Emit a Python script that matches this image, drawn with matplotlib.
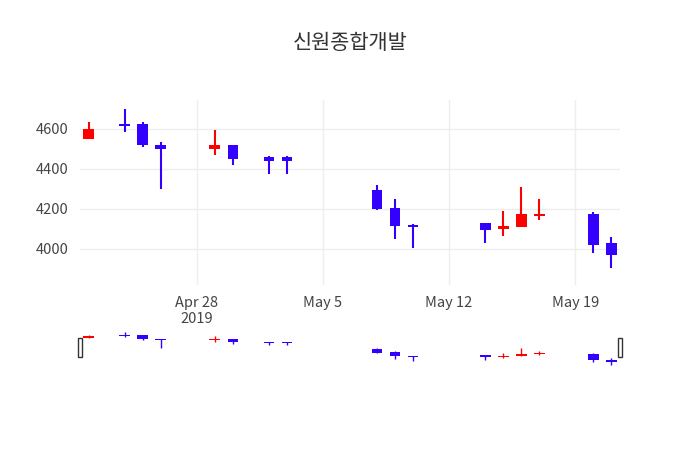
import matplotlib
matplotlib.use("Agg")
import matplotlib.pyplot as plt
import matplotlib.dates as mdates
import datetime as dt

plt.rcParams['font.family'] = ['Noto Sans CJK KR', 'DejaVu Sans']

dates = ["2019-04-22","2019-04-24","2019-04-25","2019-04-26","2019-04-29","2019-04-30",
         "2019-05-02","2019-05-03","2019-05-08","2019-05-09","2019-05-10","2019-05-14",
         "2019-05-15","2019-05-16","2019-05-17","2019-05-20","2019-05-21"]
opens  = [4550,4625,4625,4520,4500,4520,4460,4460,4295,4205,4120,4130,4100,4110,4165,4175,4030]
closes = [4600,4615,4520,4500,4520,4450,4440,4440,4200,4115,4110,4095,4115,4175,4175,4020,3970]
highs  = [4635,4700,4635,4535,4595,4520,4465,4465,4320,4250,4125,4130,4190,4310,4250,4185,4060]
lows   = [4550,4585,4510,4300,4470,4420,4375,4375,4195,4050,4005,4030,4065,4110,4145,3980,3905]

x = mdates.date2num([dt.datetime.strptime(d, "%Y-%m-%d") for d in dates])
UP, DOWN = "#ff0000", "#3300ff"

fig = plt.figure(figsize=(7, 4.5), dpi=100)
fig.text(0.5, 0.905, "신원종합개발", ha="center", va="center", fontsize=15, color="#333")
ax = fig.add_axes([0.114, 0.367, 0.772, 0.411])
sl = fig.add_axes([0.114, 0.182, 0.772, 0.084])

def draw(a, lw, minh):
    for xi, o, c, h, l in zip(x, opens, closes, highs, lows):
        col = UP if c >= o else DOWN
        a.vlines(xi, l, h, color=col, lw=lw, zorder=3)
        lo, hi = min(o, c), max(o, c)
        if hi - lo < minh:
            lo, hi = (o + c) / 2 - minh / 2, (o + c) / 2 + minh / 2
        a.bar(xi, hi - lo, bottom=lo, width=0.6, color=col, zorder=4)

draw(ax, 1.5, 10)
draw(sl, 1, 25)
xmin, xmax = x[0] - 0.5, x[-1] + 0.5
for a in (ax, sl):
    a.set_xlim(xmin, xmax)
    for s in a.spines.values():
        s.set_visible(False)
ax.set_ylim(3820, 4745)
ax.set_yticks([4000, 4200, 4400, 4600])
ticks = mdates.date2num([dt.datetime(2019, 4, 28), dt.datetime(2019, 5, 5),
                         dt.datetime(2019, 5, 12), dt.datetime(2019, 5, 19)])
ax.set_xticks(ticks)
ax.set_xticklabels(["Apr 28\n2019", "May 5", "May 12", "May 19"])
ax.grid(True, color="#eeeeee", lw=1)
ax.set_axisbelow(True)
ax.tick_params(length=0, labelsize=10.5, colors="#444", pad=8)
sl.set_ylim(3820, 4745)
sl.set_xticks([]); sl.set_yticks([])
for xe in (xmin, xmax):
    sl.add_patch(plt.Rectangle((xe - 0.12, 4100), 0.24, 450, facecolor="white",
                               edgecolor="#333", lw=1, clip_on=False, zorder=5))
fig.savefig("out.png", dpi=100)
